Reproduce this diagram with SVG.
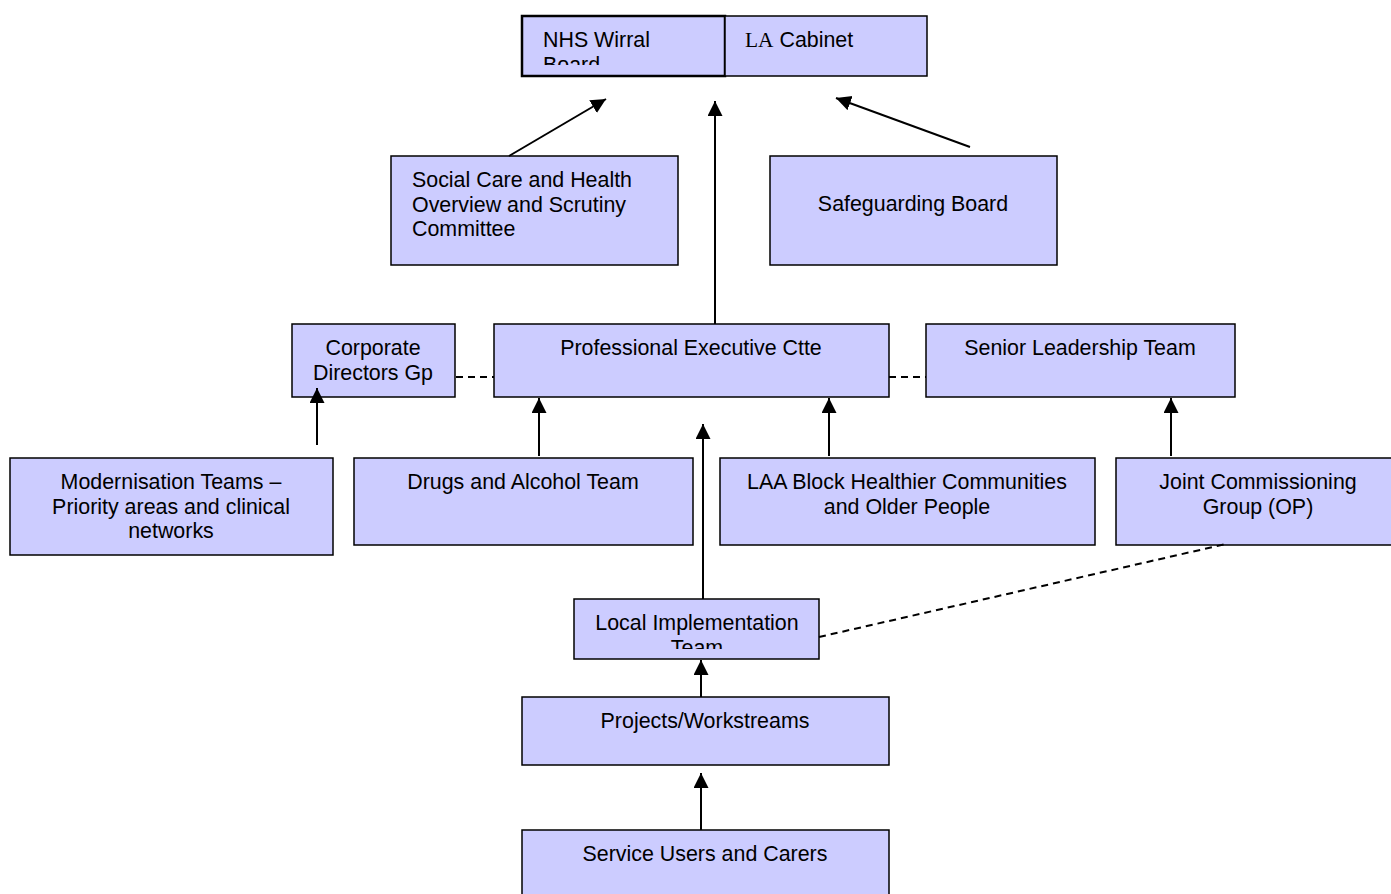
<svg xmlns="http://www.w3.org/2000/svg" width="1391" height="894" viewBox="0 0 1391 894">
<style>
.box{fill:#ccccff;stroke:#000;stroke-width:1.5}
.t{font-family:"Liberation Sans",Arial,sans-serif;font-size:21.4px;fill:#000}
.m{text-anchor:middle}
.c{stroke:#000;stroke-width:2;fill:none}
.a{marker-end:url(#arr)}
.d{stroke-dasharray:7,5}
</style>
<defs>
<marker id="arr" markerUnits="userSpaceOnUse" markerWidth="16" markerHeight="16" refX="15" refY="7.5" orient="auto">
<path d="M0,0 L15,7.5 L0,15 z" fill="#000"/>
</marker>
<clipPath id="clipNHS"><rect x="523" y="17" width="201" height="48"/></clipPath>
<clipPath id="clipLIT"><rect x="575" y="600" width="243" height="49"/></clipPath>
</defs>
<rect width="1391" height="894" fill="#fff"/>
<g id="nhs-board">
<rect class="box" x="522" y="16" width="203" height="60" style="stroke-width:2.5"/>
<text class="t" x="543" y="47" clip-path="url(#clipNHS)">NHS Wirral<tspan x="543" dy="24.5">Board</tspan></text>
</g>
<g id="la-cabinet">
<rect class="box" x="725" y="16" width="202" height="60"/>
<text class="t" x="745" y="47"><tspan style="font-family:'Liberation Serif',serif">LA</tspan> Cabinet</text>
</g>
<g id="social-care">
<rect class="box" x="391" y="156" width="287" height="109"/>
<text class="t" x="412" y="187">Social Care and Health<tspan x="412" dy="24.5">Overview and Scrutiny</tspan><tspan x="412" dy="24.5">Committee</tspan></text>
</g>
<g id="safeguarding">
<rect class="box" x="770" y="156" width="287" height="109"/>
<text class="t m" x="913" y="211">Safeguarding Board</text>
</g>
<g id="corporate-directors">
<rect class="box" x="292" y="324" width="163" height="73"/>
<text class="t m" x="373" y="355">Corporate<tspan x="373" dy="24.5">Directors Gp</tspan></text>
</g>
<g id="pec">
<rect class="box" x="494" y="324" width="395" height="73"/>
<text class="t m" x="691" y="355">Professional Executive Ctte</text>
</g>
<g id="slt">
<rect class="box" x="926" y="324" width="309" height="73"/>
<text class="t m" x="1080" y="355">Senior Leadership Team</text>
</g>
<g id="modernisation">
<rect class="box" x="10" y="458" width="323" height="97"/>
<text class="t m" x="171" y="489">Modernisation Teams –<tspan x="171" dy="24.5">Priority areas and clinical</tspan><tspan x="171" dy="24.5">networks</tspan></text>
</g>
<g id="drugs-alcohol">
<rect class="box" x="354" y="458" width="339" height="87"/>
<text class="t m" x="523" y="489">Drugs and Alcohol Team</text>
</g>
<g id="laa-block">
<rect class="box" x="720" y="458" width="375" height="87"/>
<text class="t m" x="907" y="489">LAA Block Healthier Communities<tspan x="907" dy="24.5">and Older People</tspan></text>
</g>
<g id="joint-commissioning">
<rect class="box" x="1116" y="458" width="280" height="87"/>
<text class="t m" x="1258" y="489">Joint Commissioning<tspan x="1258" dy="24.5">Group (OP)</tspan></text>
</g>
<g id="lit">
<rect class="box" x="574" y="599" width="245" height="60"/>
<text class="t m" x="697" y="630" clip-path="url(#clipLIT)">Local Implementation<tspan x="697" dy="24.5">Team</tspan></text>
</g>
<g id="projects">
<rect class="box" x="522" y="697" width="367" height="68"/>
<text class="t m" x="705" y="728">Projects/Workstreams</text>
</g>
<g id="service-users">
<rect class="box" x="522" y="830" width="367" height="70"/>
<text class="t m" x="705" y="861">Service Users and Carers</text>
</g>
<g id="connectors">
<line class="c a" x1="509" y1="156" x2="606" y2="99"/>
<line class="c a" x1="715" y1="324" x2="715" y2="101"/>
<line class="c a" x1="970" y1="147" x2="836" y2="98"/>
<line class="c d" x1="456" y1="377" x2="494" y2="377"/>
<line class="c d" x1="889" y1="377" x2="926" y2="377"/>
<line class="c a" x1="317" y1="445" x2="317" y2="388"/>
<line class="c a" x1="539" y1="456" x2="539" y2="398"/>
<line class="c a" x1="829" y1="456" x2="829" y2="398"/>
<line class="c a" x1="1171" y1="456" x2="1171" y2="398"/>
<line class="c a" x1="703" y1="599" x2="703" y2="424"/>
<line class="c d" x1="819" y1="637" x2="1226" y2="544"/>
<line class="c a" x1="701" y1="697" x2="701" y2="660"/>
<line class="c a" x1="701" y1="830" x2="701" y2="773"/>
</g>
</svg>
